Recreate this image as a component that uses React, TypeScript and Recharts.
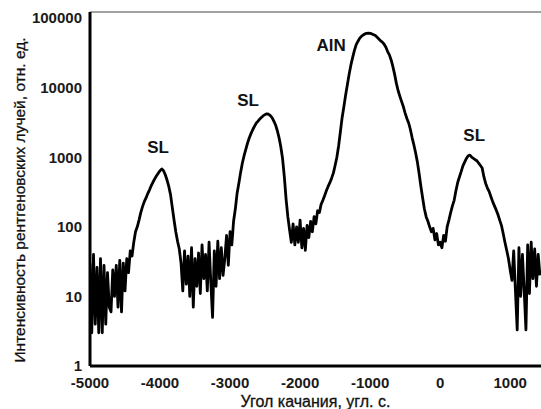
import React from 'react'
import {
  LineChart,
  Line,
  XAxis,
  YAxis,
  ReferenceLine,
  ReferenceDot,
  Label,
} from 'recharts'

// rocking curve, sampled every 25 arc-sec starting at -5000
const angleStart = -5000
const angleStep = 25

const wingLeft = [
  30, 3, 40, 4, 26, 3, 35, 3, 28, 4, 22, 7, 6, 24, 10, 28, 7, 33, 6, 30, 12,
]
const peakSL1 = [
  35, 22, 45, 38, 60, 85, 100, 125, 160, 195, 230, 260, 300, 340, 390, 440,
  490, 540, 590, 640, 680, 640, 560, 470, 380, 290, 190, 125, 85, 62, 48,
]
const valley1 = [
  30, 12, 45, 15, 38, 10, 50, 7, 35, 14, 42, 11, 55, 18, 40, 12, 60, 16, 5, 45,
  14, 62, 18, 50, 20,
]
const peakSL2 = [
  35, 75, 28, 85, 55, 120, 180, 300, 420, 600, 820, 1050, 1300, 1600, 1900,
  2200, 2500, 2800, 3100, 3300, 3550, 3750, 3950, 4100, 4200, 4150, 3950, 3700,
  3300, 2900, 2400, 1900, 1400, 950, 520, 250, 140, 90, 60,
]
const valley2 = [110, 55, 100, 60, 125, 50, 95, 46, 105, 70, 120]
const peakAlN = [
  85, 140, 110, 170, 160, 210, 240, 280, 330, 380, 430, 500, 590, 760, 1000,
  1450, 2300, 3700, 5300, 7800, 11000, 15500, 21000, 27000, 34000, 41000,
  46000, 51000, 54500, 57000, 59000, 60000, 60500, 60000, 59000, 57500, 56000,
  53000, 50000, 47000, 45000, 42000, 38000, 33000, 29500, 25000, 20000, 15500,
  11500, 9000, 7500, 6300, 5300, 4300, 3600, 3100, 2500, 1900, 1500, 1150, 850,
  580, 380, 260, 180, 140, 120, 100,
]
const peakSL3 = [
  85, 95, 65, 80, 55, 60, 50, 75, 62, 100, 125, 160, 200, 240, 330, 430, 520,
  620, 750, 850, 960, 1050, 1070, 1000, 960, 920, 890, 820, 760, 700, 520, 420,
  360, 320, 270, 230, 200, 175, 150, 125, 105, 80, 60, 46, 35, 24, 17,
]
const wingRight = [45, 12, 3.3, 50, 10, 40, 12, 3.3, 55, 11, 60, 18, 48, 14, 40, 20]

const xTicks = [-5000, -4000, -3000, -2000, -1000, 0, 1000]
const yTicks = [1, 10, 100, 1000, 10000, 100000]

const peakNames = ['SL', 'SL', 'AlN', 'SL']
const peakNameAngles = [-4029, -2743, -1557, 486]
const peakNameLevels = [1400, 6640, 40900, 2080]

const intensity = [
  ...wingLeft,
  ...peakSL1,
  ...valley1,
  ...peakSL2,
  ...valley2,
  ...peakAlN,
  ...peakSL3,
  ...wingRight,
]
const curve = intensity.map((v, i) => ({ angle: angleStart + i * angleStep, value: v }))

const font = '"Liberation Sans", Arial, sans-serif'
const tickStyle = { fontSize: 15, fontWeight: 'bold', fill: '#1a1a1a', fontFamily: font }

const XTitle = ({ viewBox }: any) => (
  <text
    x={viewBox.x + viewBox.width / 2}
    y={viewBox.y + 41}
    textAnchor="middle"
    fontSize={16}
    fontFamily={font}
    fill="#111"
    stroke="#111"
    strokeWidth={0.3}
  >
    Угол качания, угл. с.
  </text>
)

const YTitle = ({ viewBox }: any) => {
  const x = 25
  const y = viewBox.y + viewBox.height / 2 + 11
  return (
    <text
      x={x}
      y={y}
      transform={`rotate(-90, ${x}, ${y})`}
      textAnchor="middle"
      fontSize={15.5}
      fontFamily={font}
      fill="#111"
      stroke="#111"
      strokeWidth={0.3}
    >
      Интенсивность рентгеновских лучей, отн. ед.
    </text>
  )
}

export default function App() {
  return (
    <div style={{ position: 'absolute', left: 0, top: 0, width: 541, height: 409, background: '#fff' }}>
      <LineChart width={541} height={409} data={curve} margin={{ top: 12, right: 0, bottom: 0, left: 0 }}>
        <XAxis
          dataKey="angle"
          type="number"
          domain={[-5000, 1440]}
          ticks={xTicks}
          allowDataOverflow
          height={43}
          axisLine={{ stroke: '#000', strokeWidth: 3 }}
          tickLine={false}
          tickMargin={5}
          tick={tickStyle}
        >
          <Label content={XTitle} />
        </XAxis>
        <YAxis
          dataKey="value"
          scale="log"
          domain={[1, 122000]}
          ticks={yTicks}
          allowDataOverflow
          width={90}
          axisLine={{ stroke: '#000', strokeWidth: 3 }}
          tickLine={false}
          tick={tickStyle}
        >
          <Label content={YTitle} />
        </YAxis>
        <ReferenceLine y={122000} stroke="#444" strokeWidth={1} />
        <Line
          type="linear"
          dataKey="value"
          stroke="#000"
          strokeWidth={2.8}
          strokeLinejoin="round"
          dot={false}
          isAnimationActive={false}
        />
        {peakNames.map((name, i) => (
          <ReferenceDot
            key={i}
            x={peakNameAngles[i]}
            y={peakNameLevels[i]}
            r={0}
            stroke="none"
            fill="none"
            label={{
              value: name,
              position: 'center',
              fontSize: 17,
              fontWeight: 'bold',
              fill: '#111',
              fontFamily: font,
            }}
          />
        ))}
      </LineChart>
    </div>
  )
}
